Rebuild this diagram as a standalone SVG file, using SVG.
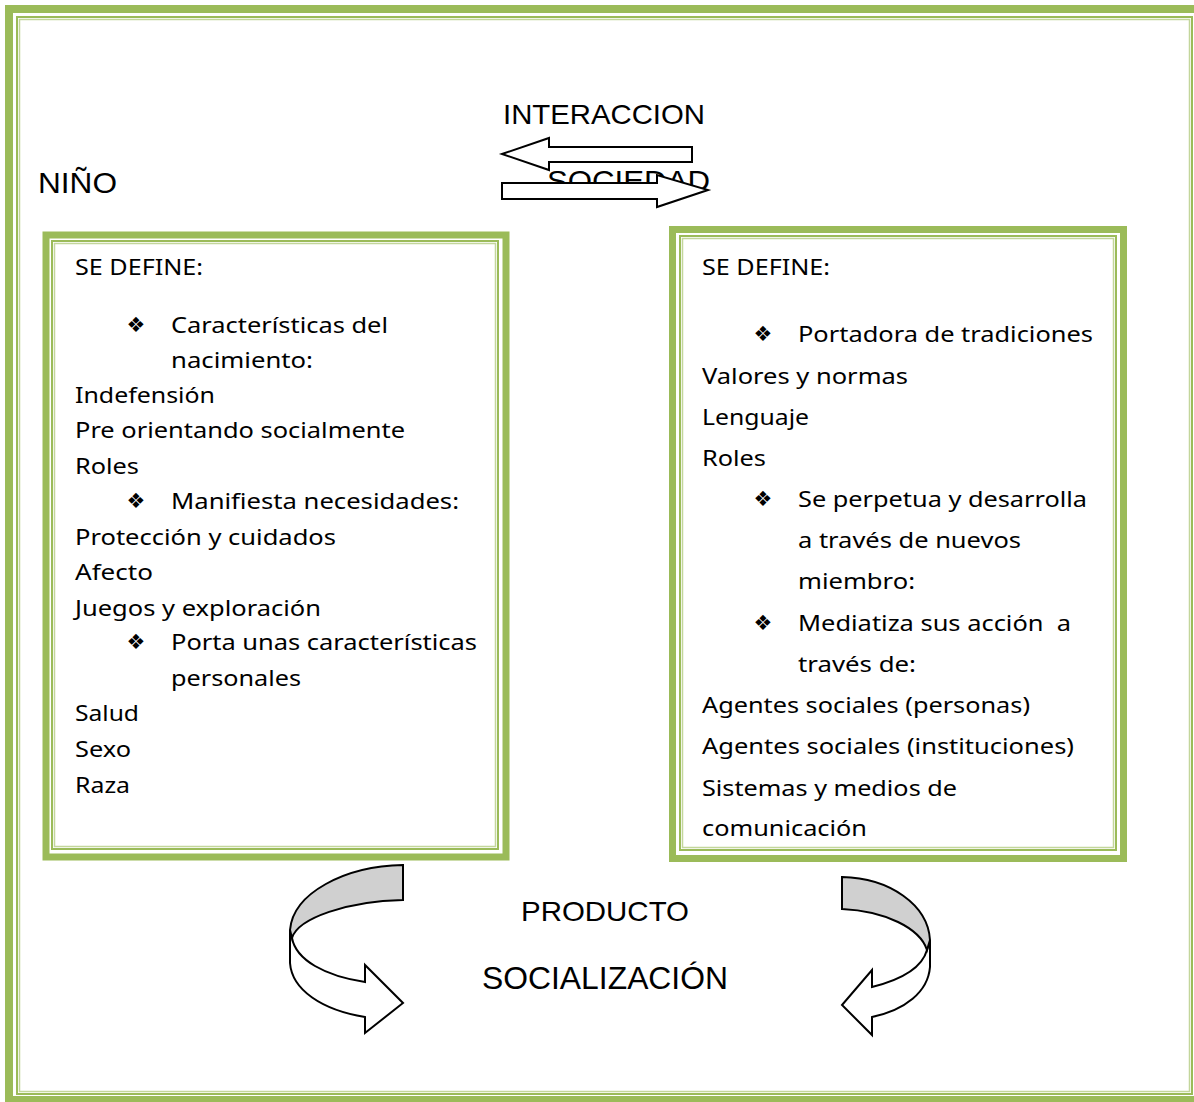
<svg xmlns="http://www.w3.org/2000/svg" width="1194" height="1102" viewBox="0 0 1194 1102">
<style>
.thick{fill:none;stroke:#9bbb59;}
.thin{fill:none;stroke:#9bbb59;stroke-width:2;}
.light{fill:none;stroke:#c3d69b;stroke-width:1.5;}
.head{font-family:"Liberation Sans",Arial,sans-serif;fill:#000;}
.body{font-family:"Noto Sans","Open Sans",sans-serif;font-size:22.5px;fill:#000;}
.bul{font-family:"DejaVu Sans",sans-serif;font-size:21px;fill:#000;text-anchor:middle;}
.shape{stroke:#000;stroke-width:2;stroke-linejoin:miter;}
</style>
<rect width="1194" height="1102" fill="#fff"/>
<g id="frame">
<rect class="thick" x="9" y="9" width="1194" height="1091" stroke-width="8"/>
<rect class="thin" x="17" y="17" width="1175" height="1077"/>
<rect class="light" x="19.5" y="19.5" width="1170" height="1072"/>
</g>
<g id="titles">
<text class="head" x="503" y="124" font-size="28" textLength="202" lengthAdjust="spacingAndGlyphs">INTERACCION</text>
<text class="head" x="38" y="193" font-size="29" textLength="79" lengthAdjust="spacingAndGlyphs">NIÑO</text>
</g>
<g id="connectors">
<path id="arrow-left" class="shape" fill="#fff" d="M502,154 L549,138 L549,147 L692,147 L692,162 L549,162 L549,170 Z"/>
<text id="sociedad" class="head" x="547" y="191" font-size="29" textLength="163" lengthAdjust="spacingAndGlyphs">SOCIEDAD</text>
<path id="arrow-right" class="shape" fill="#fff" d="M502,183 L657,183 L657,175 L708,190 L657,207 L657,199 L502,199 Z"/>
<g id="curved-left">
<path class="shape" fill="#fff" d="M290,930 L290,963 C292,990 322,1010 365,1017 L365,1033 L403,1003 L365,965 L365,982 C325,976 296,960 292,938 Z"/>
<path class="shape" fill="#d0d0d0" d="M403,865 L403,900 C348,901 298,918 292,938 L290,930 C293,893 345,866 403,865 Z"/>
</g>
<g id="curved-right">
<path class="shape" fill="#fff" d="M930,940 L930,967 C928,992 905,1010 872,1017 L872,1035 L842,1005 L872,970 L872,987 C900,980 922,968 927,950 Z"/>
<path class="shape" fill="#d0d0d0" d="M842,877 L842,909 C885,911 920,928 927,950 L930,940 C928,905 890,878 842,877 Z"/>
</g>
</g>
<g id="node-nino">
<rect class="thick" x="46" y="235" width="460" height="622" stroke-width="7"/>
<rect class="thin" x="52" y="241" width="446" height="608"/>
<rect class="light" x="54.5" y="243.5" width="441" height="603"/>
<text class="body" x="75" y="275" textLength="128" lengthAdjust="spacingAndGlyphs">SE DEFINE:</text>
<text class="bul" x="136" y="332">❖</text>
<text class="body" x="171" y="333" textLength="217" lengthAdjust="spacingAndGlyphs">Características del</text>
<text class="body" x="171" y="368" textLength="142" lengthAdjust="spacingAndGlyphs">nacimiento:</text>
<text class="body" x="75" y="403" textLength="140" lengthAdjust="spacingAndGlyphs">Indefensión</text>
<text class="body" x="75" y="438" textLength="330" lengthAdjust="spacingAndGlyphs">Pre orientando socialmente</text>
<text class="body" x="75" y="474" textLength="64" lengthAdjust="spacingAndGlyphs">Roles</text>
<text class="bul" x="136" y="508">❖</text>
<text class="body" x="171" y="509" textLength="288" lengthAdjust="spacingAndGlyphs">Manifiesta necesidades:</text>
<text class="body" x="75" y="545" textLength="261" lengthAdjust="spacingAndGlyphs">Protección y cuidados</text>
<text class="body" x="75" y="580" textLength="78" lengthAdjust="spacingAndGlyphs">Afecto</text>
<text class="body" x="75" y="616" textLength="246" lengthAdjust="spacingAndGlyphs">Juegos y exploración</text>
<text class="bul" x="136" y="649">❖</text>
<text class="body" x="171" y="650" textLength="306" lengthAdjust="spacingAndGlyphs">Porta unas características</text>
<text class="body" x="171" y="686" textLength="130" lengthAdjust="spacingAndGlyphs">personales</text>
<text class="body" x="75" y="721" textLength="64" lengthAdjust="spacingAndGlyphs">Salud</text>
<text class="body" x="75" y="757" textLength="56" lengthAdjust="spacingAndGlyphs">Sexo</text>
<text class="body" x="75" y="793" textLength="55" lengthAdjust="spacingAndGlyphs">Raza</text>
</g>
<g id="node-sociedad">
<rect class="thick" x="672.5" y="229.5" width="451" height="629" stroke-width="7"/>
<rect class="thin" x="680" y="236" width="436" height="614"/>
<rect class="light" x="682.5" y="238.5" width="431" height="609"/>
<text class="body" x="702" y="275" textLength="128" lengthAdjust="spacingAndGlyphs">SE DEFINE:</text>
<text class="bul" x="763" y="341">❖</text>
<text class="body" x="798" y="342" textLength="295" lengthAdjust="spacingAndGlyphs">Portadora de tradiciones</text>
<text class="body" x="702" y="384" textLength="206" lengthAdjust="spacingAndGlyphs">Valores y normas</text>
<text class="body" x="702" y="425" textLength="107" lengthAdjust="spacingAndGlyphs">Lenguaje</text>
<text class="body" x="702" y="466" textLength="64" lengthAdjust="spacingAndGlyphs">Roles</text>
<text class="bul" x="763" y="506">❖</text>
<text class="body" x="798" y="507" textLength="289" lengthAdjust="spacingAndGlyphs">Se perpetua y desarrolla</text>
<text class="body" x="798" y="548" textLength="223" lengthAdjust="spacingAndGlyphs">a través de nuevos</text>
<text class="body" x="798" y="589" textLength="117" lengthAdjust="spacingAndGlyphs">miembro:</text>
<text class="bul" x="763" y="630">❖</text>
<text class="body" x="798" y="631" textLength="273" lengthAdjust="spacingAndGlyphs">Mediatiza sus acción&#160; a</text>
<text class="body" x="798" y="672" textLength="118" lengthAdjust="spacingAndGlyphs">través de:</text>
<text class="body" x="702" y="713" textLength="328" lengthAdjust="spacingAndGlyphs">Agentes sociales (personas)</text>
<text class="body" x="702" y="754" textLength="372" lengthAdjust="spacingAndGlyphs">Agentes sociales (instituciones)</text>
<text class="body" x="702" y="796" textLength="255" lengthAdjust="spacingAndGlyphs">Sistemas y medios de</text>
<text class="body" x="702" y="836" textLength="165" lengthAdjust="spacingAndGlyphs">comunicación</text>
</g>
<g id="node-producto">
<text class="head" x="521" y="921" font-size="28" textLength="168" lengthAdjust="spacingAndGlyphs">PRODUCTO</text>
<text class="head" x="482" y="989" font-size="31" textLength="246" lengthAdjust="spacingAndGlyphs">SOCIALIZACIÓN</text>
</g>
</svg>
